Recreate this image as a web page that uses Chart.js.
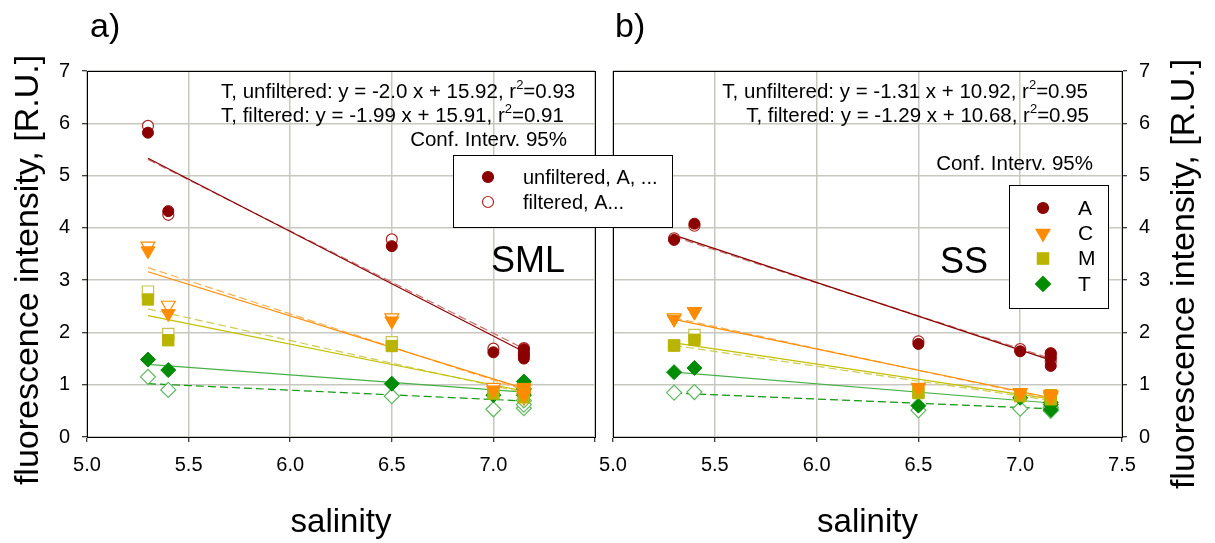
<!DOCTYPE html>
<html>
<head>
<meta charset="utf-8">
<script src="https://cdn.jsdelivr.net/npm/chart.js@4/dist/chart.umd.min.js"></script>
<style>
  html, body { margin: 0; padding: 0; background: #fff; }
  #wrap { position: relative; width: 1215px; height: 543px; overflow: hidden; }
  canvas { position: absolute; top: 0; }
  #ssCanvas { left: 530px; width: 685px; height: 543px; }
  #smlCanvas { left: 0; width: 700px; height: 543px; }
</style>
</head>
<body>
<div id="wrap">
  <canvas id="ssCanvas" width="685" height="543"></canvas>
  <canvas id="smlCanvas" width="700" height="543"></canvas>
</div>
<script>
// salinity of the stations (three replicates at the outermost one)
var salinity = [5.3, 5.4, 6.5, 7.0, 7.15, 7.15, 7.15];
var fitX = [5.3, 7.15];
var xTicks = [5.0, 5.5, 6.0, 6.5, 7.0, 7.5];
var yTicks = [0, 1, 2, 3, 4, 5, 6, 7];

// SML - unfiltered / filtered fluorescence per component
var smlA  = [5.82, 4.32, 3.65, 1.62, 1.68, 1.58, 1.50];
var smlAf = [5.95, 4.25, 3.78, 1.69, 1.70, 1.62, 1.55];
var smlC  = [3.56, 2.36, 2.22, 0.90, 0.95, 0.86, 0.80];
var smlCf = [3.65, 2.52, 2.28, 0.95, 0.92, 0.84, 0.76];
var smlM  = [2.63, 1.85, 1.74, 0.83, 0.90, 0.84, 0.76];
var smlMf = [2.78, 1.97, 1.81, 0.88, 0.92, 0.86, 0.80];
var smlT  = [1.48, 1.28, 1.02, 0.80, 1.06, 0.92, 0.80];
var smlTf = [1.15, 0.90, 0.78, 0.53, 0.55, 0.62, 0.70];

// SML - linear fits at fitX (unfiltered, filtered)
var smlFitA  = [5.33, 1.63];
var smlFitAf = [5.31, 1.69];
var smlFitC  = [3.16, 0.93];
var smlFitCf = [3.24, 0.90];
var smlFitM  = [2.32, 0.88];
var smlFitMf = [2.45, 0.85];
var smlFitT  = [1.39, 0.86];
var smlFitTf = [1.02, 0.69];

// SS - unfiltered / filtered
var ssA  = [3.77, 4.08, 1.78, 1.64, 1.60, 1.51, 1.36];
var ssAf = [3.80, 4.04, 1.83, 1.68, 1.60, 1.55, 1.45];
var ssC  = [2.25, 2.39, 0.94, 0.84, 0.82, 0.80, 0.77];
var ssCf = [2.28, 2.40, 0.95, 0.85, 0.80, 0.78, 0.76];
var ssM  = [1.75, 1.86, 0.84, 0.78, 0.80, 0.76, 0.72];
var ssMf = [1.75, 1.95, 0.86, 0.80, 0.78, 0.75, 0.72];
var ssT  = [1.24, 1.32, 0.60, 0.75, 0.62, 0.52, 0.66];
var ssTf = [0.85, 0.86, 0.51, 0.54, 0.57, 0.55, 0.50];

// SS - linear fits
var ssFitA  = [3.86, 1.47];
var ssFitAf = [3.83, 1.50];
var ssFitC  = [2.25, 0.75];
var ssFitCf = [2.28, 0.73];
var ssFitM  = [1.80, 0.73];
var ssFitMf = [1.75, 0.70];
var ssFitT  = [1.24, 0.65];
var ssFitTf = [0.84, 0.54];

var FONT = "'Liberation Sans', Arial, sans-serif";
Chart.defaults.font.family = FONT;
Chart.defaults.color = '#000';

var styles = {
  A: { shape: 'circle',   r: 5.5, rot: 0,   fill: '#8b0000', open: '#b22222', solid: '#8b0000', dash: '#c87070' },
  C: { shape: 'triangle', r: 8,   rot: 180, fill: '#ff8c00', open: '#ff8c00', solid: '#ff8c00', dash: '#ffae55' },
  M: { shape: 'rect',     r: 8,   rot: 0,   fill: '#b8b400', open: '#c8c450', solid: '#c4c000', dash: '#cccc55' },
  T: { shape: 'rectRot',  r: 7.5, rot: 0,   fill: '#008c00', open: '#60b860', solid: '#48b048', dash: '#109810' }
};

function pts(xs, ys) {
  return ys.map(function (v, i) { return { x: xs[i], y: v }; });
}

function buildDatasets(obs, fits) {
  var out = [];
  ['A', 'C', 'M', 'T'].forEach(function (k) {
    var s = styles[k];
    out.push({ type: 'scatter', data: pts(salinity, obs[k][0]), pointStyle: s.shape, pointRadius: s.r,
      pointRotation: s.rot, backgroundColor: s.fill, borderColor: s.fill, borderWidth: 1, order: 0 });
    out.push({ type: 'scatter', data: pts(salinity, obs[k][1]), pointStyle: s.shape, pointRadius: s.r,
      pointRotation: s.rot, backgroundColor: '#fff', borderColor: s.open, borderWidth: 1.2, order: 1 });
    out.push({ type: 'line', data: pts(fitX, fits[k][0]), borderColor: s.solid, borderWidth: 1.2,
      pointRadius: 0, fill: false, order: 2 });
    out.push({ type: 'line', data: pts(fitX, fits[k][1]), borderColor: s.dash, borderWidth: 1.2,
      borderDash: [8, 4], pointRadius: 0, fill: false, order: 2 });
  });
  return out;
}

function drawMarker(ctx, shape, x, y, r, fill, stroke) {
  ctx.save();
  ctx.beginPath();
  if (shape === 'circle') {
    ctx.arc(x, y, r, 0, Math.PI * 2);
  } else if (shape === 'triangle') {
    ctx.moveTo(x - r * 0.87, y - r * 0.5);
    ctx.lineTo(x + r * 0.87, y - r * 0.5);
    ctx.lineTo(x, y + r);
  } else if (shape === 'rect') {
    var h = r * Math.SQRT1_2;
    ctx.rect(x - h, y - h, 2 * h, 2 * h);
  } else {
    ctx.moveTo(x, y - r); ctx.lineTo(x + r, y); ctx.lineTo(x, y + r); ctx.lineTo(x - r, y);
  }
  ctx.closePath();
  ctx.fillStyle = fill; ctx.fill();
  ctx.strokeStyle = stroke; ctx.lineWidth = 1.2; ctx.stroke();
  ctx.restore();
}

// text line with an "r^2" superscript
function drawEq(ctx, text, x, y, align, size) {
  var parts = text.split('^2');
  ctx.font = size + 'px ' + FONT;
  var w0 = ctx.measureText(parts[0]).width;
  var w2 = parts.length > 1 ? ctx.measureText(parts[1]).width : 0;
  ctx.font = Math.round(size * 0.62) + 'px ' + FONT;
  var w1 = parts.length > 1 ? ctx.measureText('2').width : 0;
  var total = w0 + w1 + w2;
  var sx = align === 'right' ? x - total : x;
  ctx.textAlign = 'left';
  ctx.textBaseline = 'alphabetic';
  ctx.font = size + 'px ' + FONT;
  ctx.fillText(parts[0], sx, y);
  if (parts.length > 1) {
    ctx.font = Math.round(size * 0.62) + 'px ' + FONT;
    ctx.fillText('2', sx + w0, y - size * 0.45);
    ctx.font = size + 'px ' + FONT;
    ctx.fillText(parts[1], sx + w0 + w1, y);
  }
}

var panelDecor = {
  id: 'panelDecor',
  beforeDatasetsDraw: function (chart) {
    var a = chart.chartArea, ctx = chart.ctx;
    ctx.save();
    ctx.strokeStyle = '#000';
    ctx.lineWidth = 1;
    ctx.strokeRect(a.left + 0.5, a.top + 0.5, a.right - a.left, a.bottom - a.top);
    ctx.restore();
  },
  afterDraw: function (chart, args, o) {
    var ctx = chart.ctx;
    ctx.save();
    ctx.fillStyle = '#000';
    // panel letter
    ctx.font = '34px ' + FONT;
    ctx.textAlign = 'left'; ctx.textBaseline = 'alphabetic';
    ctx.fillText(o.letter.text, o.letter.x, o.letter.y);
    // site label
    ctx.font = '36px ' + FONT;
    ctx.fillText(o.site.text, o.site.x, o.site.y);
    // regression notes
    o.notes.forEach(function (n) { drawEq(ctx, n.text, n.x, n.y, n.align, 20.5); });
    // y axis title, reading bottom to top
    ctx.save();
    ctx.translate(o.yTitle.x, o.yTitle.y);
    ctx.rotate(-Math.PI / 2);
    ctx.font = '34px ' + FONT;
    ctx.textAlign = 'center'; ctx.textBaseline = 'middle';
    ctx.fillText('fluorescence intensity, [R.U.]', 0, 0);
    ctx.restore();
    // legend box
    var L = o.legend;
    ctx.fillStyle = '#fff';
    ctx.fillRect(L.x, L.y, L.w, L.h);
    ctx.strokeStyle = '#000'; ctx.lineWidth = 1;
    ctx.strokeRect(L.x + 0.5, L.y + 0.5, L.w, L.h);
    L.items.forEach(function (it, i) {
      var y = L.firstY + i * L.step;
      drawMarker(ctx, it.shape, L.markX, y, it.r, it.fill, it.stroke);
      ctx.fillStyle = '#000';
      ctx.font = L.size + 'px ' + FONT;
      ctx.textAlign = 'left'; ctx.textBaseline = 'middle';
      ctx.fillText(it.text, L.textX, y + 1);
    });
    ctx.restore();
  }
};

function makePanel(id, obs, fits, side, padding, decor) {
  var isLeft = side === 'left';
  return new Chart(document.getElementById(id), {
    type: 'scatter',
    data: { datasets: buildDatasets(obs, fits) },
    plugins: [panelDecor],
    options: {
      responsive: false,
      animation: false,
      events: [],
      layout: { padding: padding },
      plugins: { legend: { display: false }, tooltip: { enabled: false }, panelDecor: decor },
      scales: {
        x: {
          type: 'linear', min: 5, max: 7.5,
          afterBuildTicks: function (s) { s.ticks = xTicks.map(function (v) { return { value: v }; }); },
          afterFit: function (s) { s.height = 106; },
          ticks: {
            autoSkip: false, maxRotation: 0, padding: 11, font: { size: 20 },
            callback: function (v) { return (isLeft && v === 7.5) ? '' : v.toFixed(1); }
          },
          grid: { color: '#c8c8c0', lineWidth: 1.5, tickLength: 5, tickColor: '#000', tickWidth: 1 },
          border: { display: true, color: '#000', width: 1 },
          title: { display: true, text: 'salinity', font: { size: 33 }, padding: { top: 0, bottom: 0 } }
        },
        y: {
          type: 'linear', min: 0, max: 7, position: side,
          afterBuildTicks: function (s) { s.ticks = yTicks.map(function (v) { return { value: v }; }); },
          afterFit: function (s) { s.width = isLeft ? 87 : 93; },
          ticks: { padding: 12, font: { size: 20 } },
          grid: { color: '#c8c8c0', lineWidth: 1.5, tickLength: 5, tickColor: '#000', tickWidth: 1 },
          border: { display: true, color: '#000', width: 1 }
        }
      }
    }
  });
}

var legendA = [
  { shape: 'circle', r: 5.5, fill: styles.A.fill, stroke: styles.A.fill, text: 'unfiltered, A, ...' },
  { shape: 'circle', r: 5.5, fill: '#fff', stroke: styles.A.open, text: 'filtered, A...' }
];
var legendSeries = ['A', 'C', 'M', 'T'].map(function (k) {
  var s = styles[k];
  return { shape: s.shape, r: s.shape === 'circle' ? 5.5 : (s.shape === 'rectRot' ? 7.5 : 8), fill: s.fill, stroke: s.fill, text: k };
});

makePanel('ssCanvas',
  { A: [ssA, ssAf], C: [ssC, ssCf], M: [ssM, ssMf], T: [ssT, ssTf] },
  { A: [ssFitA, ssFitAf], C: [ssFitC, ssFitCf], M: [ssFitM, ssFitMf], T: [ssFitT, ssFitTf] },
  'right', { left: 83, right: 0, top: 71, bottom: 0 },
  {
    letter: { text: 'b)', x: 85, y: 37 },
    site: { text: 'SS', x: 410, y: 273 },
    notes: [
      { text: 'T, unfiltered: y = -1.31 x + 10.92, r^2=0.95', x: 558, y: 98, align: 'right' },
      { text: 'T, filtered: y = -1.29 x + 10.68, r^2=0.95', x: 559, y: 122, align: 'right' },
      { text: 'Conf. Interv. 95%', x: 563, y: 170, align: 'right' }
    ],
    yTitle: { x: 655, y: 274 },
    legend: { x: 479, y: 185, w: 99, h: 123, markX: 513, textX: 548, firstY: 208, step: 25.3, size: 21, items: legendSeries }
  });

makePanel('smlCanvas',
  { A: [smlA, smlAf], C: [smlC, smlCf], M: [smlM, smlMf], T: [smlT, smlTf] },
  { A: [smlFitA, smlFitAf], C: [smlFitC, smlFitCf], M: [smlFitM, smlFitMf], T: [smlFitT, smlFitTf] },
  'left', { left: 0, right: 105, top: 71, bottom: 0 },
  {
    letter: { text: 'a)', x: 90, y: 37 },
    site: { text: 'SML', x: 491, y: 272 },
    notes: [
      { text: 'T, unfiltered: y = -2.0 x + 15.92, r^2=0.93', x: 221, y: 98, align: 'left' },
      { text: 'T, filtered: y = -1.99 x + 15.91, r^2=0.91', x: 221, y: 122, align: 'left' },
      { text: 'Conf. Interv. 95%', x: 567, y: 146, align: 'right' }
    ],
    yTitle: { x: 29, y: 270 },
    legend: { x: 453, y: 155, w: 219, h: 72, markX: 488, textX: 523, firstY: 177, step: 25, size: 20, items: legendA }
  });
</script>
</body>
</html>
